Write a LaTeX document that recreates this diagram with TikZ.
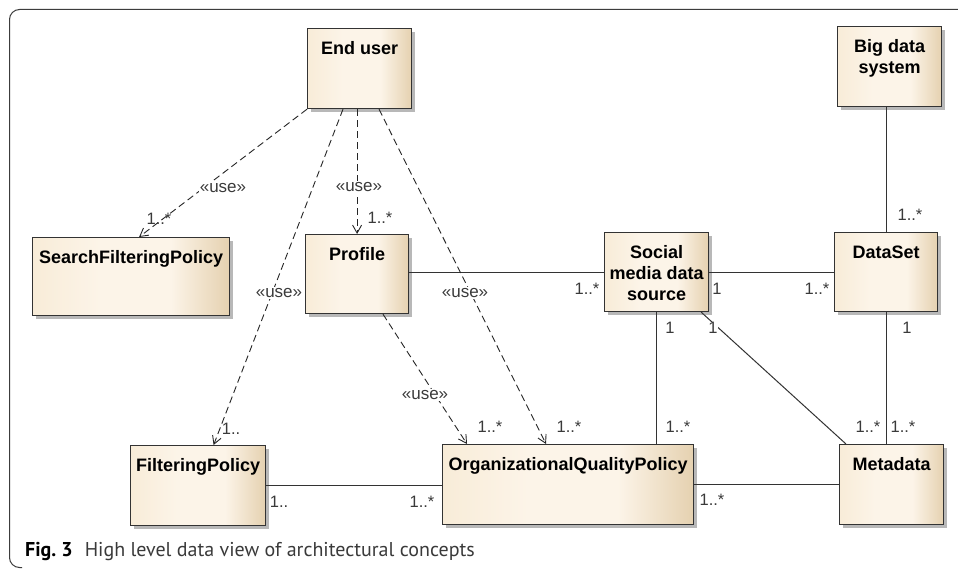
\documentclass[tikz,border=0pt]{standalone}
\usepackage{fontspec}
\setmainfont{Liberation Sans}
\newfontfamily\capfont{PT Sans}
\usetikzlibrary{shadows,arrows.meta,calc}
\definecolor{boxL}{HTML}{F8ECD8}
\definecolor{boxM}{HTML}{FCF4E8}
\definecolor{boxR}{HTML}{E5D1B0}
\definecolor{edge}{HTML}{333333}
\definecolor{txtgray}{HTML}{3A3A3A}
\definecolor{framecol}{HTML}{3C3C3C}
\pgfdeclarehorizontalshading{boxshade}{100bp}{color(0bp)=(boxL); color(25bp)=(boxL); color(42bp)=(boxM); color(60bp)=(boxM); color(75bp)=(boxR); color(100bp)=(boxR)}
\begin{document}
\begin{tikzpicture}[x=1pt,y=-1pt,
  umlbox/.style={draw=edge, line width=1.2pt, shading=boxshade,
    drop shadow={shadow xshift=3pt, shadow yshift=-3pt, fill=black!28, opacity=1},
    anchor=north west, inner sep=0pt, minimum width=104pt, minimum height=80pt},
  ttl/.style={font=\fontsize{18}{21}\selectfont\bfseries, align=center, anchor=north, inner sep=0pt, text=black},
  mult/.style={font=\fontsize{16.5}{19}\selectfont, text=txtgray, inner sep=0.5pt},
  stereo/.style={font=\fontsize{17}{19}\selectfont, text=txtgray, fill=white, inner sep=1pt},
  dep/.style={draw=black!85, line width=0.9pt, dash pattern=on 7pt off 4pt, -{Straight Barb[length=8pt,width=9pt]}},
  assoc/.style={draw=edge, line width=1pt}]
\useasboundingbox (0,0) rectangle (958,569);
\fill[white] (0,0) rectangle (958,569);
\draw[framecol, line width=1pt, rounded corners=10pt] (958,9.5) -- (9.5,9.5) -- (9.5,567.5) -- (22,567.5);

% boxes
\node[umlbox] (eu) at (307,28) {};
\node[umlbox, minimum width=197pt, minimum height=78pt] (sfp) at (32,237) {};
\node[umlbox, minimum width=103pt, minimum height=79pt] (pr) at (305,234) {};
\node[umlbox, minimum height=79pt] (sm) at (604,232) {};
\node[umlbox, minimum width=103pt, minimum height=79pt] (ds) at (834,232) {};
\node[umlbox] (bd) at (837,26) {};
\node[umlbox, minimum width=135pt] (fp) at (130,445) {};
\node[umlbox, minimum width=251pt] (org) at (442,444) {};
\node[umlbox] (md) at (839,444) {};

% titles
\node[ttl] (eut) at ($(eu.north)+(0,13.5)$) {End user};
\node[ttl] (sfpt) at ($(sfp.north)+(0,13.5)$) {SearchFilteringPolicy};
\node[ttl] (prt) at ($(pr.north)+(0,13)$) {Profile};
\node[ttl] (smt) at ($(sm.north)+(0,13.5)$) {Social\\media data\\source};
\node[ttl] (dst) at ($(ds.north)+(0,13.5)$) {DataSet};
\node[ttl] (bdt) at ($(bd.north)+(0,13.5)$) {Big data\\system};
\node[ttl] (fpt) at ($(fp.north)+(0,13.5)$) {FilteringPolicy};
\node[ttl] (orgt) at ($(org.north)+(0,13.5)$) {OrganizationalQualityPolicy};
\node[ttl] (mdt) at ($(md.north)+(0,13.5)$) {Metadata};

% associations
\draw[assoc] (pr.east |- sm.west) -- (sm.west);
\draw[assoc] (sm.east) -- (ds.west);
\draw[assoc] (ds.north |- bd.south) -- (ds.north);
\draw[assoc] (sm.south) -- (sm.south |- org.north);
\draw[assoc] (ds.south) -- (ds.south |- md.north);
\draw[assoc] ([xshift=-8pt]sm.south east) -- ([xshift=7pt]md.north west);
\draw[assoc] (fp.east) -- (fp.east -| org.west);
\draw[assoc] (org.east) -- (md.west);

% dependencies
\draw[dep] (eu.south west) -- ([xshift=8pt]sfp.north);
\draw[dep] ([xshift=36pt]eu.south west) -- ([xshift=15.5pt]fp.north);
\draw[dep] (pr.north |- eu.south) -- (pr.north);
\draw[dep] ([xshift=72pt]eu.south west) -- ([xshift=104pt]org.north west);
\draw[dep] ([xshift=78pt]pr.south west) -- ([xshift=25pt]org.north west);

% stereotypes
\node[stereo] (u1) at (223,188) {«use»};
\node[stereo] (u2) at (359,187) {«use»};
\node[stereo] (u3) at (279,293) {«use»};
\node[stereo] (u4) at (465,293) {«use»};
\node[stereo] (u5) at (425,395) {«use»};

% multiplicities
\node[mult] (m1) at (159,219) {1..*};
\node[mult] (m2) at (380,218) {1..*};
\node[mult] (m3) at (231,429) {1..};
\node[mult] (m4) at (490,427) {1..*};
\node[mult] (m5) at (569,427) {1..*};
\node[mult] (m6) at (587,289) {1..*};
\node[mult] (m7) at (717,289) {1};
\node[mult] (m8) at (817,289) {1..*};
\node[mult] (m9) at (910,215) {1..*};
\node[mult] (m10) at (670,328) {1};
\node[mult, fill=white] (m11) at (713,328) {1};
\node[mult] (m12) at (907,328) {1};
\node[mult] (m13) at (868,427) {1..*};
\node[mult] (m14) at (903,427) {1..*};
\node[mult] (m15) at (678,427) {1..*};
\node[mult] (m16) at (279,502) {1..};
\node[mult] (m17) at (422,502) {1..*};
\node[mult] (m18) at (712,500) {1..*};

% caption
\node[anchor=base west, inner sep=0pt, font=\capfont\fontsize{20}{23}\selectfont, text=txtgray] (cap) at (25,556) {\textcolor{black}{\bfseries Fig.~3}\hspace{0.6em}High level data view of architectural concepts};
\end{tikzpicture}
\end{document}
